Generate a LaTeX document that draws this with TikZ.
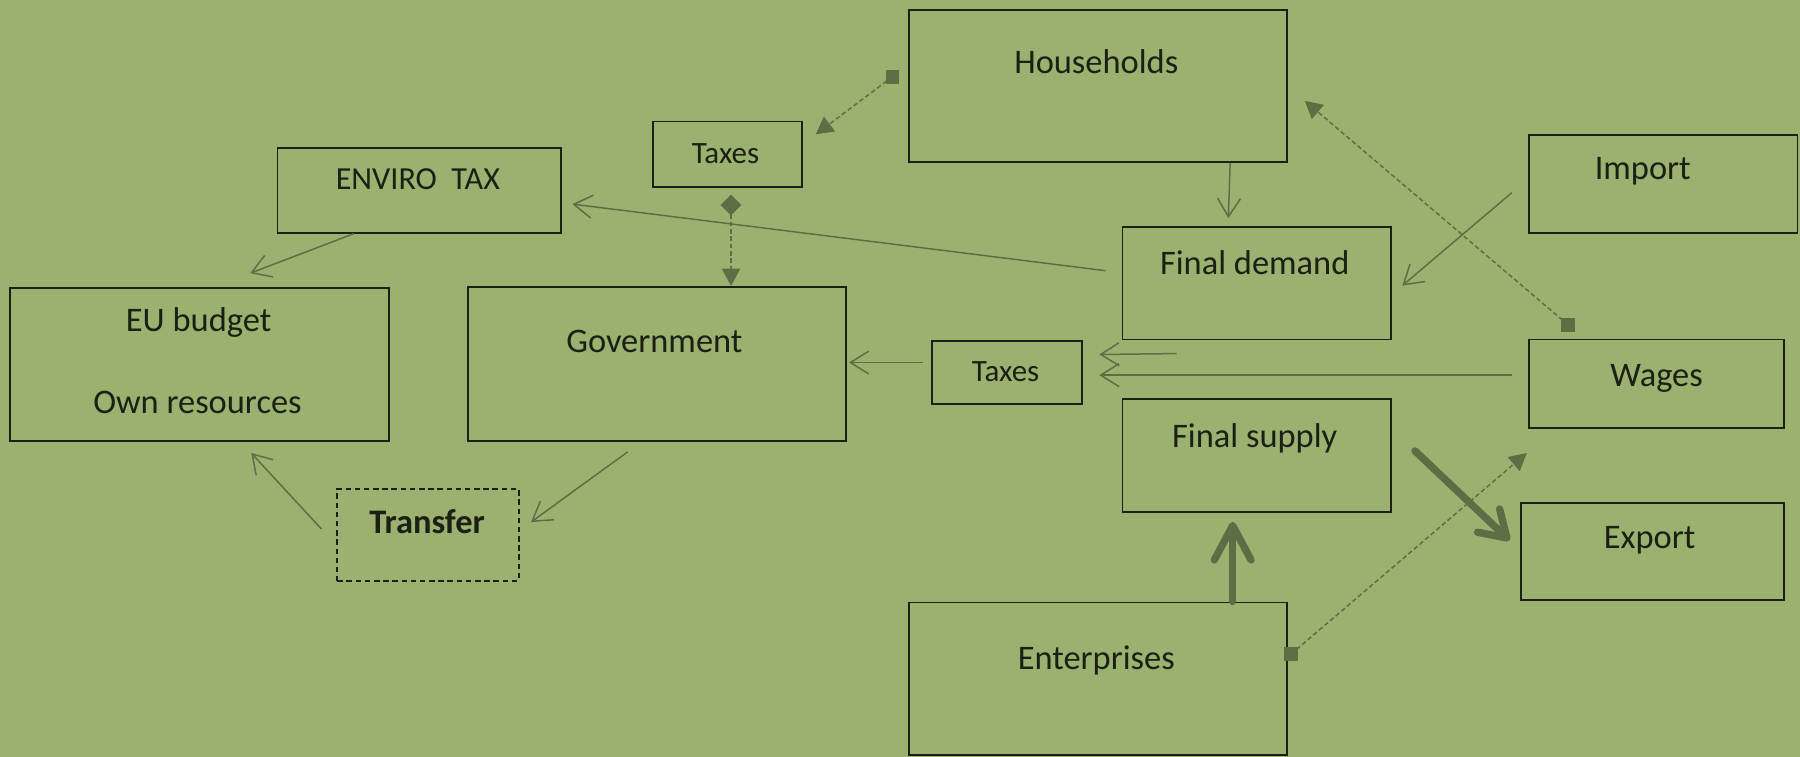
\documentclass[tikz,border=0pt]{standalone}
\usepackage{fontspec}
\setmainfont{Carlito}
\usetikzlibrary{arrows.meta,calc}
\definecolor{bg}{RGB}{155,177,112}
\definecolor{flow}{RGB}{94,110,68}
\definecolor{ink}{RGB}{28,32,20}
\tikzset{
  every picture/.style={font=\fontsize{15}{18}\selectfont},
  box/.style={draw=ink,line width=0.8pt,anchor=north west,inner sep=0pt},
  lbl/.style={anchor=base,text=ink,inner sep=0pt},
  small/.style={font=\fontsize{13.5}{16}\selectfont},
  thin/.style={flow,line width=0.65pt,-{Straight Barb[length=8pt,width=10pt]}},
  dots/.style={flow,line width=0.65pt,dash pattern=on 2pt off 1.2pt,-{Triangle[length=7.5pt,width=8pt]}},
  dm/.style={arrows={Diamond[length=9pt,width=9pt]-Triangle[length=7.5pt,width=8pt]}},
  heavy/.style={flow,line width=3.2pt,line cap=round},
}
\newcommand\plug[1]{\fill[flow] ($(#1)+(-6,-6)$) rectangle ($(#1)+(6,6)$);}

\begin{document}
\begin{tikzpicture}[x=0.5pt,y=-0.5pt]
  \useasboundingbox (0,0) rectangle (1568,659);
  \fill[bg] (0,0) rectangle (1568,659);
  % boxes
  \foreach \n/\x/\y/\w/\h in {hh/791/8/329/132, tax1/568/105/130/57, env/241/128/247/74,
      imp/1331/117/234/85, fd/977/197/234/98, eu/8/250/330/133, gov/407/249/329/134,
      tax2/811/296/131/55, wag/1331/295/222/77, fs/977/347/234/98, exp/1324/437/229/85,
      ent/791/524/329/133}{
    \node[box,minimum width=\w*0.5pt,minimum height=\h*0.5pt] (\n) at (\x,\y) {};
  }
  \node[box,dash pattern=on 2.4pt off 1.6pt,minimum width=79pt,minimum height=40pt] (trf) at (293,425) {};
  % labels
  \foreach \t/\x/\y [count=\i] in {Households/955/64, Import/1431/156, Final demand/1093/239,
      EU budget/173/289, Own resources/172/360, Government/570/307, Wages/1443/337,
      Final supply/1093/390, Export/1437/478, Enterprises/955/583}{
    \node[lbl] (t\i) at (\x,\y) {\t};
  }
  \node[lbl,small] (ttax1) at (632,142) {Taxes};
  \node[lbl,small] (ttax2) at (876,332) {Taxes};
  \node[lbl,font=\fontsize{14}{16}\selectfont] (tenv) at (364,165) {ENVIRO\ \ TAX};
  \node[lbl,font=\fontsize{15}{18}\selectfont\bfseries] (ttrf) at (372,465) {Transfer};
  % flows
  \coordinate (s1) at ($(hh.west)+(-13.5,-8)$);
  \coordinate (s2) at ($(wag.north west)+(35,-12)$);
  \coordinate (s3) at ($(ent.east)+(3,-21.5)$);
  \draw[dots] (s1) -- ($(tax1.north east)+(11,12)$);
  \draw[dots] (s2) -- ($(hh.east)+(15,13)$);
  \draw[dots] (s3) -- ($(wag.south west)+(-1,21)$);
  \plug{s1} \plug{s2} \plug{s3}
  \draw[dots,dm] ($(tax1.south)+(3,6)$) -- ($(gov.north)+(64.5,0)$);
  \draw[thin] ($(hh.south east)+(-50,0)$) -- ($(fd.north west)+(93,-7)$);
  \draw[thin] ($(fd.west)+(-14,-11)$) -- ($(env.east)+(9,12)$);
  \draw[thin] ($(env.south west)+(67,0)$) -- ($(eu.north west)+(210,-12)$);
  \draw[thin] ($(gov.south)+(-25.5,9)$) -- ($(trf.east)+(10,-11)$);
  \draw[thin] ($(trf.west)+(-13,-5)$) -- ($(eu.south)+(45,10)$);
  \draw[thin] ($(tax2.west)+(-7,-8.5)$) -- ($(gov.east)+(2,-1)$);
  \coordinate (stub) at (1025,308);
  \draw[thin] (stub) -- ($(tax2.east)+(14,-15.5)$);
  \draw[thin] ($(wag.west)+(-14,-7.5)$) -- ($(tax2.east)+(14,2.5)$);
  \draw[thin] ($(imp.west)+(-14,7.5)$) -- ($(fd.east)+(9,2)$);
  \draw[heavy,-{Straight Barb[round,length=15pt,width=16pt]}] ($(ent.north)+(117.5,0)$) -- ($(fs.south)+(-21,8)$);
  \draw[heavy,-{Straight Barb[round,length=11pt,width=14pt]}] ($(fs.east)+(20,-4)$) -- ($(exp.west)+(-9,-9.5)$);
\end{tikzpicture}
\end{document}
